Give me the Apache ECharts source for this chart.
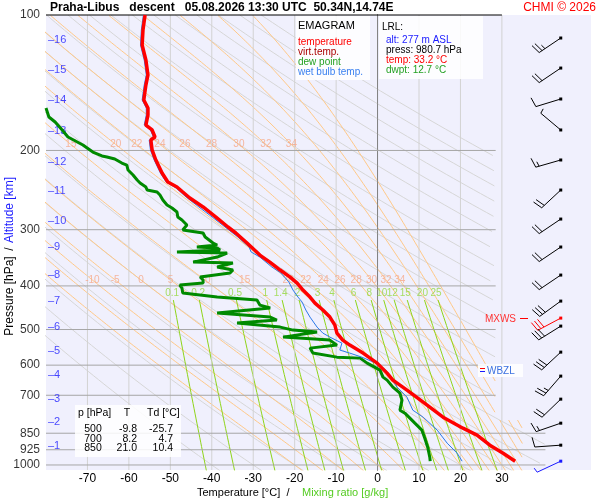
<!DOCTYPE html>
<html lang="en">
<head>
<meta charset="UTF-8">
<title>Emagram Praha-Libus</title>
<script src="https://cdn.jsdelivr.net/npm/echarts@6/dist/echarts.min.js"></script>
<style>
  html, body { margin: 0; padding: 0; background: #fff; }
  #chart { width: 600px; height: 500px; }
</style>
</head>
<body>
<div id="chart"></div>
<script>
// sounding: pressure [hPa] and temperature [°C]
var tempP = [100.0,108.0,116.6,125.9,135.9,143.1,154.5,161.0,166.8,175.6,180.1,186.7,189.6,199.5,210.0,224.5,235.1,241.1,247.4,255.1,
  267.1,281.2,295.9,305.1,321.2,341.6,354.1,368.8,382.3,394.2,408.6,423.5,436.7,452.6,469.2,488.8,509.2,527.8,541.5,564.1,
  593.8,625.0,647.8,681.8,725.0,783.0,828.3,858.5,903.6,941.4,980.7];
var tempT = [-56.1,-56.6,-56.8,-55.9,-55.4,-55.9,-56.4,-55.4,-55.4,-55.9,-54.4,-53.7,-54.7,-54.4,-53.5,-52.0,-50.6,-48.4,-47.0,-45.3,
  -42.1,-39.0,-36.1,-34.2,-31.5,-28.4,-26.0,-23.5,-21.1,-19.4,-18.0,-16.3,-15.1,-13.2,-11.5,-10.3,-9.8,-8.4,-6.7,-3.5,
  -0.1,2.3,3.7,7.1,11.0,15.8,20.6,24.0,27.1,30.3,33.2];

var wetP = [100.0,108.0,116.6,125.9,135.9,143.1,154.5,161.0,166.8,175.6,180.1,186.7,189.6,199.5,210.0,224.5,235.1,
  242.4,253.8,267.1,281.2,295.9,311.5,327.8,336.3,345.1,363.2,374.5,392.2,408.6,423.5,434.5,452.6,469.2,493.8,509.2,519.8,
  536.0,555.5,564.1,575.9,593.8,615.5,671.4,706.7,755.4,783.0,836.8,894.4,941.4,980.7];
var wetT = [-56.5,-57.0,-57.2,-56.3,-55.8,-56.3,-56.8,-55.8,-55.8,-56.3,-54.8,-54.1,-55.1,-54.8,-53.9,-52.4,-51.0,
  -48.6,-46.2,-43.1,-39.9,-36.8,-33.7,-31.0,-30.5,-28.4,-25.5,-23.3,-21.4,-20.4,-19.2,-18.2,-17.3,-16.3,-14.6,-13.2,-11.5,
  -8.6,-9.1,-6.7,-3.8,-0.4,2.0,4.7,7.1,8.5,11.0,14.4,16.8,19.2,20.4];

var dewP = [161.0,168.5,172.9,180.1,186.7,194.5,201.6,205.7,206.8,208.9,213.3,215.5,221.1,226.8,232.7,236.3,241.2,244.9,247.4,251.2,
  257.7,264.4,268.5,274.0,281.2,285.5,292.9,300.5,305.1,311.5,321.2,324.5,327.8,329.5,332.9,336.3,338.1,345.1,354.1,355.9,
  363.2,368.8,374.5,382.3,388.2,394.2,398.3,404.5,414.9,423.5,430.1,441.2,448.0,459.6,469.2,476.4,483.8,493.8,501.5,506.6,
  519.8,527.8,541.5,549.9,564.1,575.9,578.8,593.8,615.5,637.9,647.8,671.4,692.4,717.6,755.4,767.1,787.0,807.4,836.8,871.8,
  912.9,960.9,980.7];
var dewT = [-80.0,-79.3,-77.8,-76.1,-74.7,-71.1,-68.7,-66.5,-65.3,-63.4,-61.7,-60.5,-60.2,-59.0,-58.0,-57.3,-55.9,-55.6,-53.2,-52.5,
  -51.8,-50.8,-49.6,-48.4,-48.2,-47.2,-46.0,-47.0,-42.1,-41.6,-39.7,-38.7,-43.6,-38.7,-38.0,-48.4,-36.3,-38.7,-44.5,-34.9,
  -38.7,-34.9,-35.6,-42.8,-42.1,-42.1,-47.7,-47.2,-47.0,-38.7,-29.1,-28.4,-25.9,-38.7,-25.9,-24.3,-33.9,-23.5,-20.4,-14.6,
  -22.8,-11.5,-9.8,-16.3,-15.6,-9.8,-4.2,-2.5,0.6,1.3,2.3,3.7,5.4,5.9,5.4,6.6,7.8,9.0,10.7,11.4,
  12.1,12.6,12.7];

// wind: pressure [hPa], direction [deg], speed [kt]
var windP = [112.5,131.2,153.7,180.1,210.0,244.9,284.1,327.8,378.4,432.3,471.6,491.3,561.3,634.6,714.0,807.4,903.6,980.7];
var windDir = [236,236,253,310,254,227,236,236,236,234,242,238,227,221,226,251,266,245];
var windSpd = [25,20,10,5,15,20,20,20,20,30,30,30,30,25,20,15,10,5];
var mxwsP = 471.6;

// axes and diagram lines
var pressureTicks = [100,200,300,400,500,600,700,850,925,1000];
var isoBars = [200,300,400,500,600,700,850,925,1000];
var isoTherms = [-70,-60,-50,-40,-30,-20,-10,0,10,20,30];
var altKm = [16,15,14,13,12,11,10,9,8,7,6,5,4,3,2,1];
var altP = [113.6,132.5,154.5,181,212,246,287,328,378,432,494,558,631,714,803,908];
var dryTheta = [-40,-30,-20,-10,0,10,20,30,40,50,60,70,80,90,100,110,120,130,140,150,160,170,180,190,200];
var moistThetaW = [-20,-15,-10,-5,0,5,10,15,20,22,24,26,28,30,32,34,36,38,40];
var moistLabels400 = [-10,-5,0,5,10,15,20,22,24,26,28,30,32,34];
var moistLabels200 = [15,20,22,24,26,28,30,32,34];
var mixRatios = [0.1,0.2,0.5,1,1.4,2,3,4,6,8,10,12,15,20,25];

var FONT = 'Liberation Sans, Arial, sans-serif';
var P_BOTTOM = 1026;
var STATION_T = 44.2;

function rightLimit(p) { return p >= 790 ? 40.5 : 28.5; }
function moistLimit(p) { return p >= 790 ? 35 : 28.5; }

// thermodynamics for the background curves
var RD = 287.04, CP = 1005.7, LV = 2.501e6, EPS = 0.622;
function esat(tc) { return 6.112 * Math.exp(17.67 * tc / (tc + 243.5)); }
function moistSlope(T, p) {
  var es = esat(T - 273.15);
  var rs = EPS * es / (p - es);
  return (RD * T + LV * rs) / (CP + LV * LV * rs * EPS / (RD * T * T));
}
function pseudoAdiabat(tw) {
  var up = [], down = [];
  var h = 0.01;
  var T = tw + 273.15, lp = Math.log(1000);
  while (lp > Math.log(100) - 1e-9) {
    up.push([T - 273.15, Math.exp(lp)]);
    var k1 = moistSlope(T, Math.exp(lp));
    var k2 = moistSlope(T - 0.5 * h * k1, Math.exp(lp - 0.5 * h));
    T -= h * k2; lp -= h;
  }
  T = tw + 273.15; lp = Math.log(1000);
  while (lp < Math.log(1030)) {
    var j1 = moistSlope(T, Math.exp(lp));
    var j2 = moistSlope(T + 0.5 * h * j1, Math.exp(lp + 0.5 * h));
    T += h * j2; lp += h;
    down.push([T - 273.15, Math.exp(lp)]);
  }
  return up.reverse().concat(down);
}
function dryAdiabat(thC) {
  var pts = [];
  for (var i = 0; i <= 120; i++) {
    var p = Math.exp(Math.log(100) + (Math.log(1030) - Math.log(100)) * i / 120);
    pts.push([(thC + 273.15) * Math.pow(p / 1000, 0.2857) - 273.15, p]);
  }
  return pts;
}
function mixDew(w, p) {
  var e = w * p / (622 + w);
  var l = Math.log(e / 6.112);
  return 243.5 * l / (17.67 - l);
}
function mixLine(w) {
  var pts = [];
  for (var i = 0; i <= 30; i++) {
    var p = 430 + (1030 - 430) * i / 30;
    pts.push([mixDew(w, p), p]);
  }
  return pts;
}
function tAt(pts, p) {
  for (var i = 1; i < pts.length; i++) {
    if (pts[i][1] >= p) {
      var a = pts[i - 1], b = pts[i];
      var f = (Math.log(p) - Math.log(a[1])) / (Math.log(b[1]) - Math.log(a[1]));
      return a[0] + f * (b[0] - a[0]);
    }
  }
  return pts[pts.length - 1][0];
}

var series = [];
var HIDDEN = { color: 'rgba(0,0,0,0)' };
function addLine(pts, color, width, z) {
  series.push({ type: 'line', data: pts, showSymbol: false, silent: true, z: z,
    lineStyle: { color: color, width: width } });
}
function addClipped(pts, color, width, z, limit) {
  var seg = [];
  limit = limit || rightLimit;
  pts.forEach(function (pt) {
    if (pt[0] <= limit(pt[1])) { seg.push(pt); }
    else { if (seg.length > 1) addLine(seg, color, width, z); seg = []; }
  });
  if (seg.length > 1) addLine(seg, color, width, z);
}
function addLabels(data, color, size, z) {
  series.push({ type: 'scatter', data: data, symbolSize: 2, silent: true, z: z, clip: false,
    itemStyle: HIDDEN,
    label: { show: true, position: 'inside', color: color, fontSize: size, fontFamily: FONT,
      formatter: function (d) { return String(d.value[2]); } } });
}

// dry adiabats
dryTheta.forEach(function (th) { addClipped(dryAdiabat(th), '#d6d6d6', 1, 1); });
// moist adiabats
var moistCurves = {};
function moistCurve(tw) {
  if (!moistCurves[tw]) moistCurves[tw] = pseudoAdiabat(tw);
  return moistCurves[tw];
}
moistThetaW.forEach(function (tw) { addClipped(moistCurve(tw), '#ffc887', 1, 1, moistLimit); });
// mixing ratio
mixRatios.forEach(function (w) { addClipped(mixLine(w), '#8fd41a', 1, 1); });
// isotherms
isoTherms.forEach(function (t) {
  addLine([[t, 100], [t, P_BOTTOM]], t === 0 ? '#8a8a8a' : '#d2d2d2', 1, 1);
});
// isobars
isoBars.forEach(function (p) {
  addLine([[-80, p], [p >= 850 ? 40.5 : 28.5, p]], '#a6a6a6', 1, 1);
});
series.push({ type: 'line', data: [[-80, 100], [30, 100]], showSymbol: false, silent: true, clip: false, z: 3,
  lineStyle: { color: '#000', width: 1 } });

// curve labels
addLabels(moistLabels400.map(function (tw) { return [tAt(moistCurve(tw), 388), 388, tw]; }), '#f6a888', 10, 2);
addLabels(moistLabels200.map(function (tw) { return [tAt(moistCurve(tw), 194), 194, tw]; }), '#f6a888', 10, 2);
addLabels(mixRatios.map(function (w) { return [mixDew(w, 416), 416, w]; }), '#94d83a', 10, 2);

// pressure and altitude labels
series.push({ type: 'scatter', data: pressureTicks.map(function (p) { return [-80, p, p]; }),
  symbolSize: 2, silent: true, z: 4, clip: false, itemStyle: HIDDEN,
  label: { show: true, position: 'left', distance: 5, color: '#000', fontSize: 12, fontFamily: FONT,
    formatter: function (d) { return String(d.value[2]); } } });
series.push({ type: 'scatter', data: altP.map(function (p, i) { return [-80, p, altKm[i]]; }),
  symbolSize: 2, silent: true, z: 4, clip: false, itemStyle: HIDDEN,
  label: { show: true, position: 'right', distance: 1, color: '#1a1aff', fontSize: 11, fontFamily: FONT,
    formatter: function (d) { return '\u2013' + d.value[2]; } } });

function zip(ps, ts) { return ps.map(function (p, i) { return [ts[i], p]; }); }
// profiles
addLine(zip(dewP, dewT), '#008a00', 3, 5);
addLine(zip(wetP, wetT), '#2a78e8', 1, 6);
addLine(zip(tempP, tempT), '#ff0000', 3.5, 7);

// wind barbs
series.push({
  type: 'custom', z: 8, silent: true, clip: false,
  data: windP.map(function (p, i) { return [STATION_T, p, windDir[i], windSpd[i]]; }),
  renderItem: function (params, api) {
    var c = api.coord([api.value(0), api.value(1)]);
    var p = api.value(1);
    var dir = api.value(2) * Math.PI / 180, spd = api.value(3);
    var col = p === mxwsP ? '#ff0000' : (params.dataIndex === windP.length - 1 ? '#1a1aff' : '#000');
    var ux = Math.sin(dir), uy = -Math.cos(dir);
    var L = 26;
    var tx = c[0] + ux * L, ty = c[1] + uy * L;
    var a = 78 * Math.PI / 180;
    var fx = ux * Math.cos(a) - uy * Math.sin(a), fy = ux * Math.sin(a) + uy * Math.cos(a);
    var kids = [{ type: 'line', shape: { x1: c[0], y1: c[1], x2: tx, y2: ty }, style: { stroke: col, lineWidth: 1 } }];
    var full = Math.floor(spd / 10), half = spd % 10 >= 5;
    var pos = 0;
    for (var i = 0; i < full; i++) {
      var bx = tx - ux * pos, by = ty - uy * pos;
      kids.push({ type: 'line', shape: { x1: bx, y1: by, x2: bx + fx * 10, y2: by + fy * 10 }, style: { stroke: col, lineWidth: 1 } });
      pos += 3.5;
    }
    if (half) {
      var hx = tx - ux * pos, hy = ty - uy * pos;
      kids.push({ type: 'line', shape: { x1: hx, y1: hy, x2: hx + fx * 5, y2: hy + fy * 5 }, style: { stroke: col, lineWidth: 1 } });
    }
    kids.push({ type: 'rect', shape: { x: c[0] - 1.5, y: c[1] - 1.5, width: 3, height: 3 }, style: { fill: col } });
    return { type: 'group', children: kids };
  }
});

function txt(x, y, s, color, size, opts) {
  opts = opts || {};
  return { type: 'text', x: x, y: y, z: 100, rotation: opts.rot || 0,
    style: { text: s, fill: color, font: (opts.bold ? 'bold ' : '') + size + 'px ' + FONT,
      textAlign: opts.align || 'left', textVerticalAlign: 'middle' } };
}
function box(x, y, w, h) {
  return { type: 'rect', z: 99, shape: { x: x, y: y, width: w, height: h },
    style: { fill: 'rgba(255,255,255,0.86)' } };
}

var chart = echarts.init(document.getElementById('chart'), null, { renderer: 'canvas' });
chart.setOption({
  animation: false,
  backgroundColor: '#fff',
  grid: { left: 46, right: 9, top: 15, bottom: 30, show: true, backgroundColor: '#f0f0fd', borderWidth: 0,
    containLabel: false, outerBoundsMode: 'none' },
  xAxis: {
    type: 'value', min: -80, max: 51.5, interval: 10,
    axisLine: { show: false }, axisTick: { show: false }, splitLine: { show: false },
    axisLabel: { margin: 3, color: '#000', fontSize: 12, fontFamily: FONT, showMaxLabel: false,
      formatter: function (v) { return (v < -70 || v > 30) ? '' : String(v); } }
  },
  yAxis: {
    type: 'log', logBase: 10, min: 100, max: P_BOTTOM, inverse: true,
    axisLine: { show: true, lineStyle: { color: '#000', width: 1 } },
    axisTick: { show: false }, axisLabel: { show: false }, splitLine: { show: false }
  },
  series: series,
  graphic: [
    txt(50, 8, 'Praha-Libus   descent   05.08.2026 13:30 UTC  50.34N,14.74E', '#000', 12, { bold: true }),
    txt(596, 8, 'CHMI \u00a9 2026', '#ff0000', 12, { align: 'right' }),
    box(296, 16, 74, 64),
    txt(298, 26, 'EMAGRAM', '#000', 11),
    txt(298, 42, 'temperature', '#ff0000', 10),
    txt(298, 52, 'virt.temp.', '#aa0000', 10),
    txt(298, 62, 'dew point', '#22a022', 10),
    txt(298, 72, 'wet bulb temp.', '#3a80f0', 10),
    box(379, 16, 104, 63),
    txt(382, 27, 'LRL:', '#000', 10),
    txt(386, 40, 'alt: 277 m ASL', '#1a1aff', 10),
    txt(386, 50, 'press: 980.7 hPa', '#000', 10),
    txt(386, 60, 'temp: 33.2 \u00b0C', '#ff0000', 10),
    txt(386, 70, 'dwpt: 12.7 \u00b0C', '#22a022', 10),
    box(75, 405, 106, 52),
    txt(78, 413, 'p [hPa]', '#000', 10.5),
    txt(127, 413, 'T', '#000', 10.5, { align: 'center' }),
    txt(147, 413, 'Td [\u00b0C]', '#000', 10.5),
    txt(93, 429, '500', '#000', 10.5, { align: 'center' }),
    txt(93, 439, '700', '#000', 10.5, { align: 'center' }),
    txt(93, 448, '850', '#000', 10.5, { align: 'center' }),
    txt(137, 429, '-9.8', '#000', 10.5, { align: 'right' }),
    txt(137, 439, '8.2', '#000', 10.5, { align: 'right' }),
    txt(137, 448, '21.0', '#000', 10.5, { align: 'right' }),
    txt(173, 429, '-25.7', '#000', 10.5, { align: 'right' }),
    txt(173, 439, '4.7', '#000', 10.5, { align: 'right' }),
    txt(173, 448, '10.4', '#000', 10.5, { align: 'right' }),
    txt(516, 319, 'MXWS', '#ff3333', 10, { align: 'right' }),
    { type: 'line', z: 100, shape: { x1: 520, y1: 318.5, x2: 528, y2: 318.5 }, style: { stroke: '#ff0000', lineWidth: 1 } },
    box(478, 364, 45, 13),
    { type: 'line', z: 100, shape: { x1: 480, y1: 368.5, x2: 485, y2: 368.5 }, style: { stroke: '#ff0000', lineWidth: 1 } },
    { type: 'line', z: 100, shape: { x1: 480, y1: 371.5, x2: 485, y2: 371.5 }, style: { stroke: '#1a1aff', lineWidth: 1 } },
    txt(487, 371, 'WBZL', '#3a70e0', 10),
    txt(10, 296, 'Pressure [hPa]', '#000', 12, { align: 'center', rot: Math.PI / 2 }),
    txt(10, 249, '/', '#000', 12, { align: 'center', rot: Math.PI / 2 }),
    txt(10, 210, 'Altitude [km]', '#1a1aff', 12, { align: 'center', rot: Math.PI / 2 }),
    txt(197, 493, 'Temperature [\u00b0C]  /', '#000', 11),
    txt(302, 493, 'Mixing ratio [g/kg]', '#55cc22', 11)
  ]
});
</script>
</body>
</html>
